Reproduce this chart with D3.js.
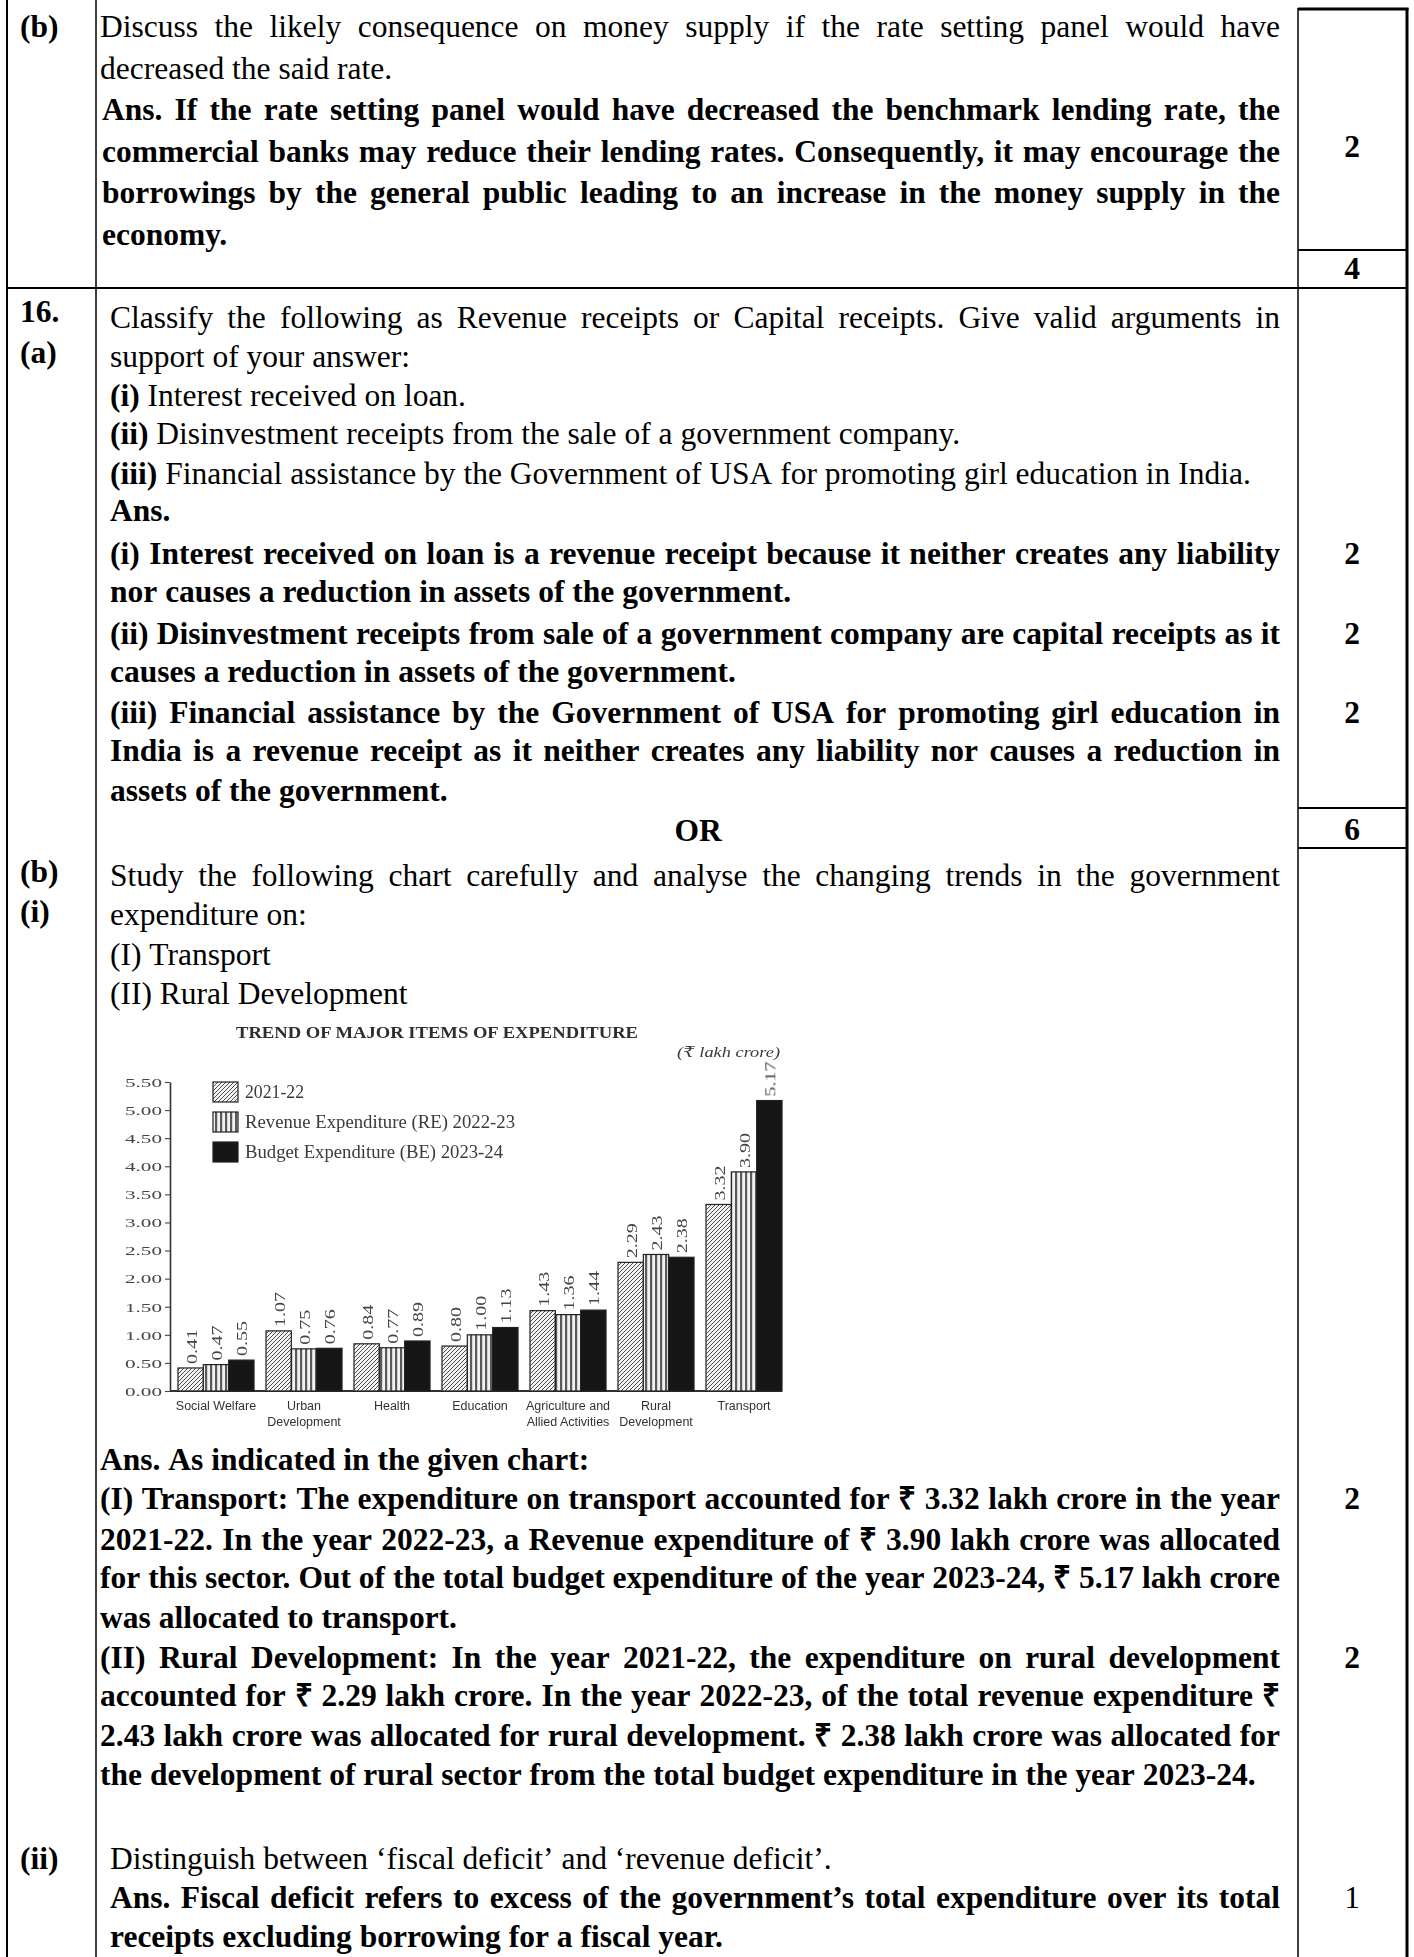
<!DOCTYPE html>
<html>
<head>
<meta charset="utf-8">
<script src="https://cdn.jsdelivr.net/npm/d3@7"></script>
<style>
  html, body { margin: 0; padding: 0; background: #fff; }
  svg { display: block; }
</style>
</head>
<body>
<svg id="page" width="1414" height="1957"></svg>
<script>
// ---------------- chart data ----------------
const categories = ["Social Welfare", "Urban Development", "Health", "Education",
  "Agriculture and Allied Activities", "Rural Development", "Transport"];
const categoryLabelLines = [["Social Welfare"], ["Urban", "Development"], ["Health"], ["Education"],
  ["Agriculture and", "Allied Activities"], ["Rural", "Development"], ["Transport"]];
const seriesNames = ["2021-22", "Revenue Expenditure (RE) 2022-23", "Budget Expenditure (BE) 2023-24"];
const values2021 = [0.41, 1.07, 0.84, 0.80, 1.43, 2.29, 3.32];
const valuesRE2022 = [0.47, 0.75, 0.77, 1.00, 1.36, 2.43, 3.90];
const valuesBE2023 = [0.55, 0.76, 0.89, 1.13, 1.44, 2.38, 5.17];
const yTickValues = [0, 0.5, 1, 1.5, 2, 2.5, 3, 3.5, 4, 4.5, 5, 5.5];
const yTickLabels = ["0.00", "0.50", "1.00", "1.50", "2.00", "2.50", "3.00", "3.50", "4.00", "4.50", "5.00", "5.50"];
const chartTitle = "TREND OF MAJOR ITEMS OF EXPENDITURE";
const unitLabel = "(\u20B9 lakh crore)";

// ---------------- page setup ----------------
const svg = d3.select("#page");
const BODY_FONT = "'Liberation Serif','Times New Roman',Times,serif";
const FS = 31.5;
const TEXT_R = 1280;

// table rules
const rules = svg.append("g").attr("stroke", "#000").attr("fill", "none");
function rule(x1, y1, x2, y2, w) {
  rules.append("line").attr("x1", x1).attr("y1", y1).attr("x2", x2).attr("y2", y2).attr("stroke-width", w);
}
rule(7, 0, 7, 1957, 2);
rule(96, 0, 96, 1957, 1.5);
rule(1298, 8, 1298, 1957, 1.5);
rule(1407, 8, 1407, 1957, 3);
rule(1298, 9, 1408.5, 9, 3);
rule(1298, 250, 1407, 250, 2);
rule(7, 288, 1407, 288, 2);
rule(1298, 808, 1407, 808, 2);
rule(1298, 848, 1407, 848, 2);

// ---------------- document text ----------------
const doc = svg.append("g").attr("font-family", BODY_FONT).attr("font-size", FS).attr("fill", "#000");

function drawLine(x, y, segs, justify, right) {
  const words = [];
  segs.forEach(([t, b]) => t.split(" ").filter(w => w.length).forEach(w => words.push({ t: w, b })));
  const nodes = words.map(w => doc.append("text").attr("y", y)
    .attr("font-weight", w.b ? 700 : 400).text(w.t));
  const widths = nodes.map(n => n.node().getComputedTextLength());
  const total = d3.sum(widths);
  const r = right || TEXT_R;
  let gap = FS * 0.25;
  if (justify && words.length > 1) gap = (r - x - total) / (words.length - 1);
  let cx = x;
  nodes.forEach((n, i) => { n.attr("x", cx); cx += widths[i] + gap; });
}

const docLines = [
  // question 15(b)
  [100, 37, true, [["Discuss the likely consequence on money supply if the rate setting panel would have", 0]]],
  [100, 79, false, [["decreased the said rate.", 0]]],
  [102, 120, true, [["Ans. If the rate setting panel would have decreased the benchmark lending rate, the", 1]]],
  [102, 162, true, [["commercial banks may reduce their lending rates. Consequently, it may encourage the", 1]]],
  [102, 203, true, [["borrowings by the general public leading to an increase in the money supply in the", 1]]],
  [102, 245, false, [["economy.", 1]]],
  // question 16(a)
  [110, 328, true, [["Classify the following as Revenue receipts or Capital receipts. Give valid arguments in", 0]]],
  [110, 367, false, [["support of your answer:", 0]]],
  [110, 406, false, [["(i)", 1], [" Interest received on loan.", 0]]],
  [110, 444, false, [["(ii)", 1], [" Disinvestment receipts from the sale of a government company.", 0]]],
  [110, 484, false, [["(iii)", 1], [" Financial assistance by the Government of USA for promoting girl education in India.", 0]]],
  [110, 521, false, [["Ans.", 1]]],
  [110, 564, true, [["(i) Interest received on loan is a revenue receipt because it neither creates any liability", 1]]],
  [110, 602, false, [["nor causes a reduction in assets of the government.", 1]]],
  [110, 644, true, [["(ii) Disinvestment receipts from sale of a government company are capital receipts as it", 1]]],
  [110, 682, false, [["causes a reduction in assets of the government.", 1]]],
  [110, 723, true, [["(iii) Financial assistance by the Government of USA for promoting girl education in", 1]]],
  [110, 761, true, [["India is a revenue receipt as it neither creates any liability nor causes a reduction in", 1]]],
  [110, 801, false, [["assets of the government.", 1]]],
  // 16(b)(i)
  [110, 886, true, [["Study the following chart carefully and analyse the changing trends in the government", 0]]],
  [110, 925, false, [["expenditure on:", 0]]],
  [110, 965, false, [["(I) Transport", 0]]],
  [110, 1004, false, [["(II) Rural Development", 0]]],
  [100, 1470, false, [["Ans. As indicated in the given chart:", 1]]],
  [100, 1509, true, [["(I) Transport: The expenditure on transport accounted for \u20B9 3.32 lakh crore in the year", 1]]],
  [100, 1550, true, [["2021-22. In the year 2022-23, a Revenue expenditure of \u20B9 3.90 lakh crore was allocated", 1]]],
  [100, 1588, true, [["for this sector. Out of the total budget expenditure of the year 2023-24, \u20B9 5.17 lakh crore", 1]]],
  [100, 1628, false, [["was allocated to transport.", 1]]],
  [100, 1668, true, [["(II) Rural Development: In the year 2021-22, the expenditure on rural development", 1]]],
  [100, 1706, true, [["accounted for \u20B9 2.29 lakh crore. In the year 2022-23, of the total revenue expenditure \u20B9", 1]]],
  [100, 1746, true, [["2.43 lakh crore was allocated for rural development. \u20B9 2.38 lakh crore was allocated for", 1]]],
  [100, 1785, false, [["the development of rural sector from the total budget expenditure in the year 2023-24.", 1]]],
  // 16(b)(ii)
  [110, 1869, false, [["Distinguish between \u2018fiscal deficit\u2019 and \u2018revenue deficit\u2019.", 0]]],
  [110, 1908, true, [["Ans. Fiscal deficit refers to excess of the government\u2019s total expenditure over its total", 1]]],
  [110, 1947, false, [["receipts excluding borrowing for a fiscal year.", 1]]]
];
docLines.forEach(([x, y, j, s]) => drawLine(x, y, s, j));

// question labels
[["(b)", 37], ["16.", 322], ["(a)", 363], ["(b)", 882], ["(i)", 922], ["(ii)", 1869]].forEach(([t, y]) => {
  doc.append("text").attr("x", 20).attr("y", y).attr("font-weight", 700).text(t);
});
// "OR"
doc.append("text").attr("x", 698).attr("y", 841).attr("text-anchor", "middle").attr("font-weight", 700).text("OR");
// marks column
[["2", 157, 1], ["4", 279, 1], ["2", 564, 1], ["2", 644, 1], ["2", 723, 1], ["6", 840, 1],
 ["2", 1509, 1], ["2", 1668, 1], ["1", 1908, 0]].forEach(([t, y, b]) => {
  doc.append("text").attr("x", 1352).attr("y", y).attr("text-anchor", "middle")
    .attr("font-weight", b ? 700 : 400).text(t);
});

// ---------------- chart ----------------
const defs = svg.append("defs");
defs.append("filter").attr("id", "soft").append("feGaussianBlur").attr("stdDeviation", 0.45);
const hatch = defs.append("pattern").attr("id", "hatch").attr("patternUnits", "userSpaceOnUse")
  .attr("width", 4).attr("height", 4);
hatch.append("rect").attr("width", 4).attr("height", 4).attr("fill", "#f4f4f4");
hatch.append("path").attr("d", "M-1,1 l2,-2 M0,4 l4,-4 M3,5 l2,-2").attr("stroke", "#3a3a3a").attr("stroke-width", 0.9);
const stripes = defs.append("pattern").attr("id", "stripes").attr("patternUnits", "userSpaceOnUse")
  .attr("width", 5).attr("height", 5);
stripes.append("rect").attr("width", 5).attr("height", 5).attr("fill", "#f2f2f2");
stripes.append("rect").attr("width", 2.2).attr("height", 5).attr("fill", "#5a5a5a");
const fills = ["url(#hatch)", "url(#stripes)", "#141414"];

const CHART_FONT = "'Liberation Serif','DejaVu Serif',serif";
const chart = svg.append("g").attr("filter", "url(#soft)").attr("font-family", CHART_FONT);

const y = d3.scaleLinear().domain([0, 5.5]).range([1391, 1082]);
const x0 = d3.scaleBand().domain(categories).range([172, 788]).paddingInner(0.136).paddingOuter(0.068);
const x1 = d3.scaleBand().domain(seriesNames).range([0, x0.bandwidth()]);
const series = [values2021, valuesRE2022, valuesBE2023];

// title and unit
chart.append("text").attr("x", 236).attr("y", 1038).attr("font-weight", 700).attr("font-size", 17)
  .attr("fill", "#2e2e2e").attr("textLength", 402).attr("lengthAdjust", "spacingAndGlyphs").text(chartTitle);
chart.append("text").attr("x", 677).attr("y", 1057).attr("font-style", "italic").attr("font-size", 15)
  .attr("fill", "#3a3a3a").attr("textLength", 103).attr("lengthAdjust", "spacingAndGlyphs").text(unitLabel);

// y axis
const yAxis = d3.axisLeft(y).tickValues(yTickValues)
  .tickFormat((d, i) => yTickLabels[i]).tickSize(5).tickSizeOuter(0).tickPadding(3);
const gy = chart.append("g").attr("transform", "translate(170,0)").call(yAxis);
gy.select(".domain").attr("stroke", "#333").attr("stroke-width", 1.6);
gy.selectAll(".tick line").attr("stroke", "#444").attr("stroke-width", 1.1);
gy.selectAll(".tick text").attr("font-family", CHART_FONT).attr("font-size", 13.5).attr("fill", "#444")
  .attr("textLength", 37).attr("lengthAdjust", "spacingAndGlyphs");

// x baseline
chart.append("line").attr("x1", 170).attr("x2", x0(categories[categories.length - 1]) + x0.bandwidth())
  .attr("y1", y(0)).attr("y2", y(0)).attr("stroke", "#333").attr("stroke-width", 1.8);

// bars
series.forEach((vals, si) => {
  const g = chart.append("g");
  g.selectAll("rect").data(vals).join("rect")
    .attr("x", (d, i) => x0(categories[i]) + x1(seriesNames[si]))
    .attr("y", d => y(d))
    .attr("width", x1.bandwidth())
    .attr("height", d => y(0) - y(d))
    .attr("fill", fills[si])
    .attr("stroke", "#222").attr("stroke-width", 1.2);
  g.selectAll("text").data(vals).join("text")
    .attr("transform", (d, i) => `translate(${x0(categories[i]) + x1(seriesNames[si]) + x1.bandwidth() / 2 + 1},${y(d) - 4}) rotate(-90)`)
    .attr("dy", "0.35em")
    .attr("font-size", 14.5).attr("fill", "#444")
    .attr("textLength", 35).attr("lengthAdjust", "spacingAndGlyphs")
    .text(d => d.toFixed(2));
});

// category labels
const catG = chart.append("g").attr("font-family", "'Liberation Sans Narrow','Arial Narrow','Liberation Sans',sans-serif")
  .attr("font-size", 12.5).attr("fill", "#333").attr("text-anchor", "middle");
categoryLabelLines.forEach((lines, i) => {
  const t = catG.append("text").attr("x", x0(categories[i]) + x0.bandwidth() / 2).attr("y", 1410);
  lines.forEach((ln, k) => t.append("tspan").attr("x", x0(categories[i]) + x0.bandwidth() / 2)
    .attr("dy", k === 0 ? 0 : 16).text(ln));
});

// legend
const ly = d3.scalePoint().domain(seriesNames).range([1092, 1152]);
const legendTextLen = [59, 270, 258];
seriesNames.forEach((s, i) => {
  chart.append("rect").attr("x", 213).attr("y", ly(s) - 10).attr("width", 25).attr("height", 20)
    .attr("fill", fills[i]).attr("stroke", "#222").attr("stroke-width", 1.2);
  chart.append("text").attr("x", 245).attr("y", ly(s)).attr("dy", "0.35em").attr("font-size", 18.5)
    .attr("fill", "#3a3a3a").attr("textLength", legendTextLen[i]).attr("lengthAdjust", "spacingAndGlyphs").text(s);
});
</script>
</body>
</html>
